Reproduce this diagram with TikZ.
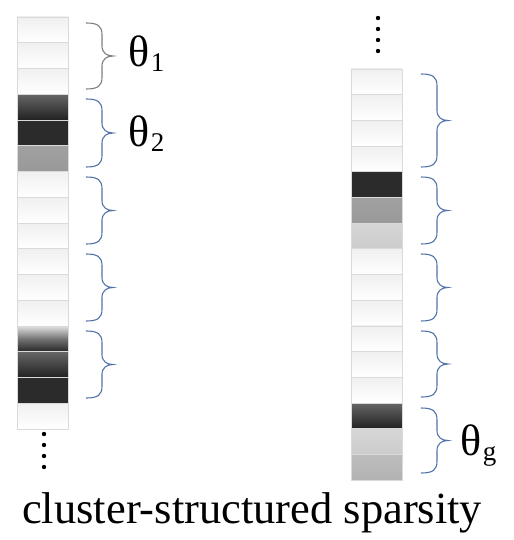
\documentclass[tikz,border=0pt]{standalone}
\usepackage{fontspec}
\setmainfont{Liberation Serif}
\definecolor{cellline}{HTML}{DADADA}
\definecolor{braceblue}{HTML}{5273A8}
\definecolor{bracegray}{HTML}{7F7F7F}
\tikzset{
  cell/.style={draw=cellline, line width=0.8bp, minimum width=51bp, minimum height=25.75bp, inner sep=0pt, outer sep=0pt},
  c-lt/.style={top color=black!6, bottom color=white},
  c-dk/.style={fill=black!83},
  c-md/.style={top color=black!37, bottom color=black!40},
  c-lg/.style={top color=black!16, bottom color=black!20},
  c-g2/.style={top color=black!26, bottom color=black!30},
  c-gd/.style={top color=black!60, bottom color=black!87},
  c-gl/.style={top color=black!12, bottom color=black!85, middle color=black!55},
  theta/.style={font=\fontsize{44bp}{46bp}\selectfont, inner sep=0pt, anchor=base west},
  bline/.style={line width=1.1bp},
}
\newcommand{\sub}[1]{\kern1.5bp\raisebox{-5bp}{\fontsize{27bp}{27bp}\selectfont #1}}
\newcommand{\cbrace}[4]{%
  \draw[bline,#4] (#1,#2) .. controls ({#1+12},#2) and ({#1+16},{#2+3}) .. ({#1+16},{#2+12})
    -- ({#1+16},{(#2+#3)/2-10}) .. controls ({#1+16},{(#2+#3)/2-3}) and ({#1+21},{(#2+#3)/2}) .. ({#1+27},{(#2+#3)/2})
    .. controls ({#1+21},{(#2+#3)/2}) and ({#1+16},{(#2+#3)/2+3}) .. ({#1+16},{(#2+#3)/2+10})
    -- ({#1+16},{#3-12}) .. controls ({#1+16},{#3-3}) and ({#1+12},#3) .. (#1,#3);}
\begin{document}
\begin{tikzpicture}[x=1bp,y=-1bp]
\useasboundingbox[fill=white] (0,0) rectangle (514,540);
% left column
\foreach \i/\s in {1/c-lt,2/c-lt,3/c-lt,4/c-gd,5/c-dk,6/c-md,7/c-lt,8/c-lt,9/c-lt,10/c-lt,11/c-lt,12/c-lt,13/c-gl,14/c-gd,15/c-dk,16/c-lt}
  \node[cell,\s] (L\i) at (42.5,{17+(\i-0.5)*25.75}) {};
% right column
\foreach \i/\s in {1/c-lt,2/c-lt,3/c-lt,4/c-lt,5/c-dk,6/c-md,7/c-lg,8/c-lt,9/c-lt,10/c-lt,11/c-lt,12/c-lt,13/c-lt,14/c-gd,15/c-lg,16/c-g2}
  \node[cell,\s] (R\i) at (376.5,{69+(\i-0.5)*25.7}) {};
% dots
\foreach \y in {434,445,456,467} \fill (44,\y) circle (2.2);
\foreach \y in {18,29,40,51} \fill (378,\y) circle (2.2);
% braces left
\cbrace{86}{23}{89}{bracegray}
\cbrace{86}{99}{167}{braceblue}
\cbrace{86}{177}{244}{braceblue}
\cbrace{86}{254}{321}{braceblue}
\cbrace{86}{331}{398}{braceblue}
% braces right
\cbrace{421}{74}{167}{braceblue}
\cbrace{421}{177}{244}{braceblue}
\cbrace{421}{254}{321}{braceblue}
\cbrace{421}{331}{397}{braceblue}
\cbrace{421}{408}{473}{braceblue}
% labels
\node[theta] (t1) at (128,67) {θ\sub{1}};
\node[theta] (t2) at (128,147) {θ\sub{2}};
\node[theta] (tg) at (460,455) {θ\sub{g}};
\node[font=\fontsize{44.5bp}{46bp}\selectfont, inner sep=0pt, anchor=base west] (cap) at (22,523) {cluster-structured sparsity};
\end{tikzpicture}
\end{document}
